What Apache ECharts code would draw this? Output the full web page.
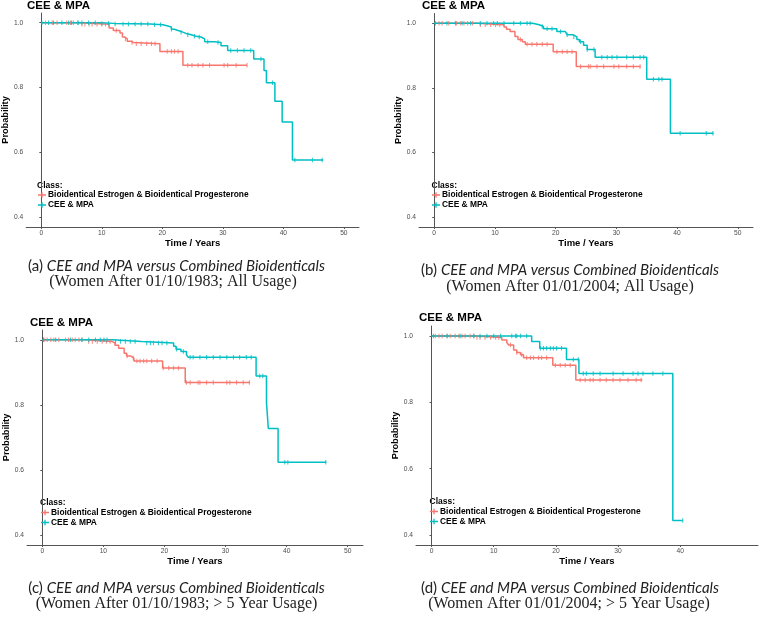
<!DOCTYPE html>
<html>
<head>
<meta charset="utf-8">
<script src="https://cdn.jsdelivr.net/npm/echarts@6/dist/echarts.min.js"></script>
<style>
html,body{margin:0;padding:0;background:#fff;}
#chart{width:760px;height:628px;}
</style>
</head>
<body>
<div id="chart"></div>
<script>
// ---------- data ----------
const seriesNames = ['Bioidentical Estrogen & Bioidentical Progesterone', 'CEE & MPA'];
const xTickLabels = [0, 10, 20, 30, 40, 50];
const xTickLabelsD = [0, 10, 20, 30, 40];
const yTickLabels = [0.4, 0.6, 0.8, 1.0];
const panelTitles = ['CEE & MPA', 'CEE & MPA', 'CEE & MPA', 'CEE & MPA'];
const captionLetters = ['(a) ', '(b) ', '(c) ', '(d) '];
const captionMain = 'CEE and MPA versus Combined Bioidenticals';
const captionSub = [
  '(Women After 01/10/1983; All Usage)',
  '(Women After 01/01/2004; All Usage)',
  '(Women After 01/10/1983; > 5 Year Usage)',
  '(Women After 01/01/2004; > 5 Year Usage)'
];

// Panel (a)
const aBioTimes = [0, 6.5, 11.2, 11.9, 13.0, 13.4, 13.8, 14.2, 14.8, 15.2, 19.6, 23.4];
const aBioSurv  = [1, 0.995, 0.984, 0.976, 0.968, 0.956, 0.95, 0.943, 0.939, 0.935, 0.911, 0.869];
const aBioEnd = 34;
const aBioCensor = [0.7, 1.8, 2.6, 4.2, 4.8, 5.3, 6, 6.7, 7.2, 7.9, 8.4, 9.2, 10, 10.6, 12.4, 13.9, 15, 15.7, 16.5, 17.4, 18.2, 18.8, 20.8, 21.5, 22, 22.6, 24.2, 24.9, 25.9, 26.7, 27.8, 30.2, 30.8, 32.2, 34];
const aCeeTimes = [0, 10, 12, 18, 20.1, 20.9, 21.5, 22, 22.6, 23.4, 23.9, 24.8, 25.6, 26.4, 27, 28.6, 29.7, 30.8, 35.1, 36.8, 37.2, 38.6, 39.8, 41.5];
const aCeeSurv  = [1, 0.998, 0.996, 0.994, 0.99, 0.987, 0.98, 0.976, 0.971, 0.967, 0.963, 0.958, 0.956, 0.95, 0.941, 0.939, 0.929, 0.914, 0.888, 0.853, 0.815, 0.758, 0.694, 0.577];
const aCeeEnd = 46.6;
const aCeeCensor = [0.1, 1.2, 2, 3.4, 4.5, 5, 6.1, 6.7, 7.8, 8.9, 10, 11.1, 12.2, 13.5, 14.4, 15.5, 16.5, 17.6, 18.7, 19.7, 21.5, 23.1, 24.2, 25.3, 26.1, 27.5, 29.2, 31.3, 32.4, 33.5, 34.6, 36.3, 38.2, 41.9, 44.8, 46.4];

// Panel (b)
const bBioTimes = [0, 7, 11.5, 11.9, 12.5, 13.3, 13.8, 14.5, 15, 19.6, 23.4];
const bBioSurv  = [1, 0.995, 0.988, 0.981, 0.974, 0.959, 0.95, 0.943, 0.935, 0.912, 0.866];
const bBioEnd = 34;
const bBioCensor = [0.8, 1.3, 2.4, 3.7, 4.3, 4.9, 5.5, 6.3, 7.6, 8.4, 9.3, 10.1, 10.8, 14.2, 15.3, 16.1, 16.9, 17.8, 18.6, 20.2, 21.1, 21.9, 22.7, 24.1, 25.4, 25.7, 26.8, 27.9, 29.6, 30.4, 31.7, 32.8, 33.9];
const bCeeTimes = [0, 16.2, 17.3, 18, 20.2, 21.6, 21.9, 22.9, 23.5, 23.9, 24.6, 25.2, 26.5, 35, 38.9];
const bCeeSurv  = [1, 0.995, 0.99, 0.983, 0.974, 0.969, 0.964, 0.958, 0.95, 0.943, 0.932, 0.919, 0.895, 0.827, 0.66];
const bCeeEnd = 46;
const bCeeCensor = [0.2, 2.1, 3.5, 4.6, 6, 7.6, 8.7, 9.8, 10.4, 11.5, 13.1, 14.2, 15.3, 15.8, 17.8, 18.6, 19.4, 20.8, 21.9, 23, 24.1, 25.2, 26.3, 27.6, 28.5, 29.3, 30.1, 31.7, 32.8, 33.9, 34.5, 36.1, 37, 37.5, 40.5, 44.8, 45.9];

// Panel (c)
const cBioTimes = [0, 7, 11.4, 11.9, 12.5, 13.4, 13.8, 14.5, 15, 19.7, 23.4];
const cBioSurv  = [1, 0.995, 0.99, 0.983, 0.974, 0.959, 0.95, 0.944, 0.935, 0.913, 0.869];
const cBioEnd = 34;
const cBioCensor = [0.3, 0.8, 1.4, 1.9, 2.7, 3.8, 4.3, 4.9, 5.4, 6, 6.5, 7.6, 8.2, 9, 9.8, 10.5, 11.1, 13.9, 14.9, 15.5, 16, 16.6, 17.1, 17.9, 18.8, 19.8, 20.7, 21.5, 22.3, 23.6, 24.2, 25.5, 25.8, 26.9, 28, 30.2, 30.7, 31.8, 32.9, 33.9];
const cCeeTimes = [0, 11.5, 16.3, 21.5, 21.9, 22.7, 23.6, 23.9, 35, 36.7, 37, 38.6];
const cCeeSurv  = [1, 0.995, 0.99, 0.98, 0.971, 0.964, 0.954, 0.946, 0.889, 0.807, 0.728, 0.624];
const cCeeEnd = 46.5;
const cCeeCensor = [0.2, 2.2, 4.6, 6.5, 7.6, 8.7, 9.5, 10.1, 10.6, 12, 12.8, 13.6, 14.4, 15.2, 17.1, 17.7, 18.2, 19, 19.6, 20.4, 22, 23.1, 24.2, 24.7, 25.8, 26.9, 28, 29.1, 30.2, 31.3, 32.3, 33.4, 34.2, 35.6, 36.1, 39.7, 40.2, 46.4];

// Panel (d)
const dBioTimes = [0, 7, 11.3, 12.1, 12.4, 13.2, 13.7, 14.3, 14.8, 19.5, 23.2];
const dBioSurv  = [1, 0.995, 0.988, 0.98, 0.973, 0.958, 0.95, 0.943, 0.934, 0.912, 0.867];
const dBioEnd = 33.9;
const dBioCensor = [0.6, 1.2, 1.7, 2.5, 3, 3.8, 4.4, 4.9, 5.4, 6.2, 6.8, 7.3, 7.8, 8.6, 9.5, 10.3, 10.8, 12.7, 13.7, 14.5, 15.3, 15.9, 16.4, 17.2, 17.7, 18.5, 19.9, 20.7, 21.5, 22.3, 23.9, 24.7, 25.5, 26, 27.1, 28.1, 29.2, 30.3, 31.6, 32.9, 33.7];
const dCeeTimes = [0, 16.1, 17.4, 21.7, 23.7, 38.8];
const dCeeSurv  = [1, 0.983, 0.963, 0.929, 0.887, 0.444];
const dCeeEnd = 40.4;
const dCeeCensor = [0.3, 2.5, 4.6, 6.8, 7.8, 8.9, 10, 11.1, 12.9, 13.5, 13.7, 14.3, 15.3, 17.5, 18, 18.5, 19.1, 19.6, 20.1, 20.9, 22.8, 23.6, 24.4, 24.9, 26, 27.1, 29.2, 30.8, 32.4, 33.2, 34, 35.6, 37.2, 40.4];

// ---------- helpers ----------
const RED = '#F8766D', TEAL = '#00BFC4';
function stepData(times, surv, end) {
  const d = times.map((t, i) => [t, surv[i]]);
  d.push([end, surv[surv.length - 1]]);
  return d;
}
function survAt(times, surv, t) {
  let v = surv[0];
  for (let i = 0; i < times.length; i++) { if (times[i] <= t) v = surv[i]; }
  return v;
}
function censorData(times, surv, cens) {
  return cens.map(t => [t, survAt(times, surv, t)]);
}

const panels = [
  {bio: [aBioTimes, aBioSurv, aBioEnd, aBioCensor], cee: [aCeeTimes, aCeeSurv, aCeeEnd, aCeeCensor], grid: {left: 25, top: 13, width: 334, height: 214}, xt: xTickLabels},
  {bio: [bBioTimes, bBioSurv, bBioEnd, bBioCensor], cee: [bCeeTimes, bCeeSurv, bCeeEnd, bCeeCensor], grid: {left: 419, top: 13.5, width: 334, height: 213.5}, xt: xTickLabels},
  {bio: [cBioTimes, cBioSurv, cBioEnd, cBioCensor], cee: [cCeeTimes, cCeeSurv, cCeeEnd, cCeeCensor], grid: {left: 27, top: 330, width: 336, height: 215}, xt: xTickLabels},
  {bio: [dBioTimes, dBioSurv, dBioEnd, dBioCensor], cee: [dCeeTimes, dCeeSurv, dCeeEnd, dCeeCensor], grid: {left: 416, top: 326, width: 342, height: 219}, xt: xTickLabelsD}
];

const FONT = '"Liberation Sans", Arial, sans-serif';
const grids = [], xAxes = [], yAxes = [], series = [], legends = [], titles = [], graphics = [];

const titlePos = [[27, 0], [422, 0], [30, 316.5], [419, 312]];
const legendPos = [[38, 191], [432, 191], [41, 508.5], [430, 507.5]];
const classPos = [[37, 186], [431.5, 186], [40, 503], [429.5, 502]];
const capPos = [[176.5, 266, 173, 282], [570, 270, 570, 287], [176.5, 588, 176.5, 604], [570, 588, 569, 604]];

panels.forEach((p, i) => {
  grids.push(Object.assign({containLabel: false}, p.grid));
  xAxes.push({
    type: 'value', gridIndex: i, min: -2.5, max: 52.5,
    name: 'Time / Years', nameLocation: 'middle', nameGap: 10,
    nameTextStyle: {fontFamily: FONT, fontSize: 9.5, fontWeight: 'bold', color: '#000'},
    axisLine: {show: true, lineStyle: {color: '#555', width: 1}},
    axisTick: {show: true, customValues: p.xt, length: 2, lineStyle: {color: '#555'}},
    axisLabel: {customValues: p.xt, fontFamily: FONT, fontSize: 6.7, color: '#4d4d4d', margin: 3},
    splitLine: {show: false}
  });
  yAxes.push({
    type: 'value', gridIndex: i, min: 0.37, max: 1.03,
    name: 'Probability', nameLocation: 'middle', nameGap: 15, nameRotate: 90,
    nameTextStyle: {fontFamily: FONT, fontSize: 9.2, fontWeight: 'bold', color: '#000'},
    axisLine: {show: true, lineStyle: {color: '#555', width: 1}},
    axisTick: {show: true, customValues: yTickLabels, length: 2, lineStyle: {color: '#555'}},
    axisLabel: {customValues: yTickLabels, fontFamily: FONT, fontSize: 6.7, color: '#4d4d4d', margin: 3,
      formatter: v => v.toFixed(1)},
    splitLine: {show: false}
  });
  [[p.bio, RED, seriesNames[0]], [p.cee, TEAL, seriesNames[1]]].forEach(([c, col, nm]) => {
    series.push({
      type: 'line', name: nm, xAxisIndex: i, yAxisIndex: i, step: 'end',
      data: stepData(c[0], c[1], c[2]), showSymbol: false, symbol: 'none',
      lineStyle: {color: col, width: 1.5}, itemStyle: {color: col}, animation: false, z: 2
    });
    series.push({
      type: 'scatter', name: nm + ' censored', xAxisIndex: i, yAxisIndex: i,
      data: censorData(c[0], c[1], c[3]), symbol: 'rect', symbolSize: [1.1, 4.5],
      itemStyle: {color: col}, animation: false, z: 3, silent: true
    });
  });
  legends.push({
    left: legendPos[i][0], top: legendPos[i][1], orient: 'vertical', padding: 0,
    itemGap: 2, itemWidth: 8, itemHeight: 7,
    icon: 'path://M0,4.2h10v1.6h-10z M4.2,1.5h1.6v7h-1.6z',
    data: seriesNames, selectedMode: false,
    textStyle: {fontFamily: FONT, fontSize: 8.4, fontWeight: 'bold', color: '#000', padding: [0, 0, 0, -3], lineHeight: 7}
  });
  titles.push({
    text: panelTitles[i], left: titlePos[i][0], top: titlePos[i][1], padding: 0,
    textStyle: {fontFamily: FONT, fontSize: 11.5, fontWeight: 'bold', color: '#000'}
  });
  graphics.push({
    type: 'text', left: classPos[i][0], top: classPos[i][1] - 5,
    style: {text: 'Class:', font: 'bold 8.5px ' + FONT, fill: '#000'}
  });
  graphics.push({
    type: 'text', x: capPos[i][0], y: capPos[i][1],
    style: {
      text: '{n|' + captionLetters[i] + '}{it|' + captionMain + '}',
      align: 'center', verticalAlign: 'middle',
      rich: {
        n: {fontFamily: 'Lato', fontSize: 15, fill: '#222'},
        it: {fontFamily: 'Lato', fontSize: 15, fontStyle: 'italic', fill: '#222'}
      }
    }
  });
  graphics.push({
    type: 'text', x: capPos[i][2], y: capPos[i][3],
    style: {text: captionSub[i], align: 'center', verticalAlign: 'middle',
      font: '16px "Liberation Serif", "Times New Roman", serif', fill: '#222'}
  });
});

const chart = echarts.init(document.getElementById('chart'), null, {renderer: 'canvas'});
chart.setOption({
  backgroundColor: '#fff',
  animation: false,
  title: titles,
  legend: legends,
  grid: grids,
  xAxis: xAxes,
  yAxis: yAxes,
  series: series,
  graphic: graphics
});
</script>
</body>
</html>
